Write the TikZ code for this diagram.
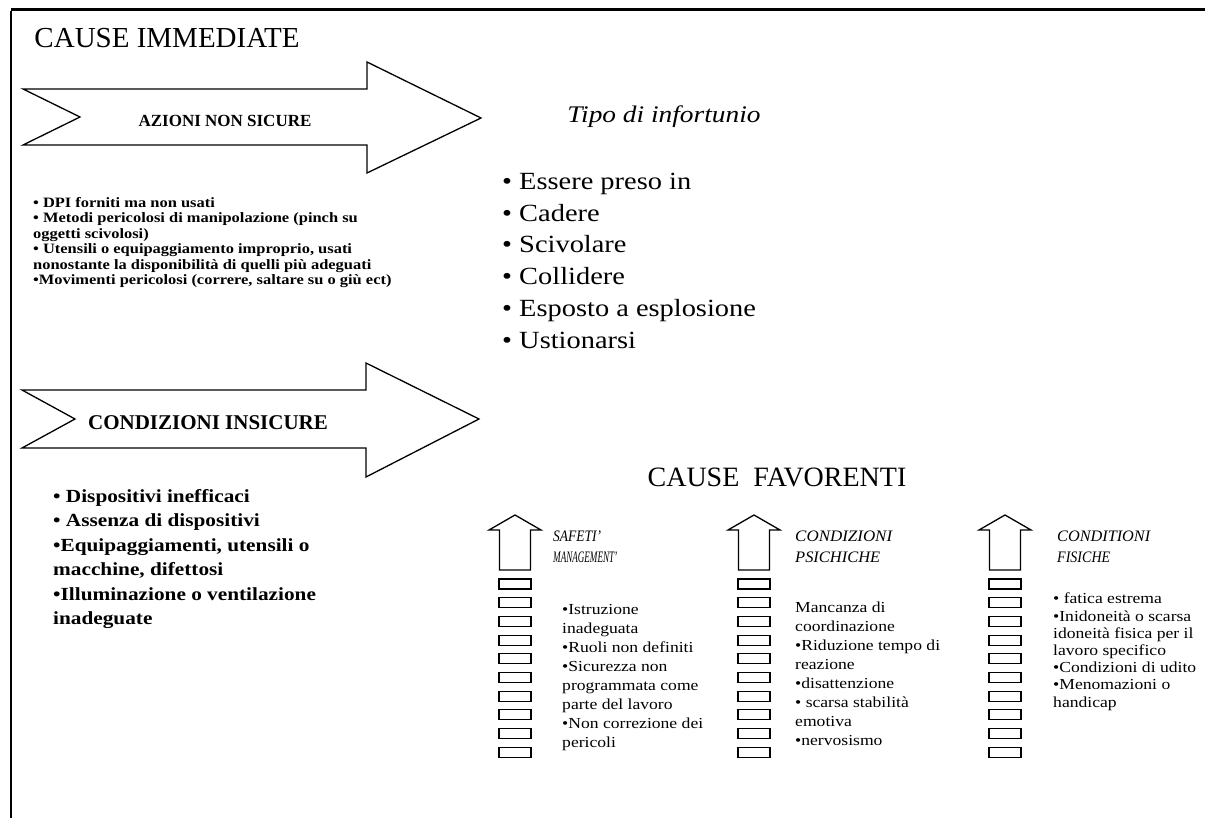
\documentclass[tikz,border=0pt]{standalone}
\usepackage{fontspec}
\usepackage{graphicx}
\setmainfont{Liberation Serif}
\newfontfamily\wideserif{Liberation Serif}[FakeStretch=1.15]
\newcommand{\fitto}[2]{\resizebox{#1pt}{\height}{#2}}
\begin{document}
\begin{tikzpicture}[x=1pt,y=-1pt,
  outline/.style={draw=black, line width=1.3pt, line join=miter},
  rungbox/.style={draw=black, line width=1.1pt},
  lbl/.style={inner sep=0pt, anchor=north west, align=left},
  hdr/.style={inner sep=0pt, anchor=north west, align=left, font=\itshape\fontsize{16}{21}\selectfont},
  colbody/.style={inner sep=0pt, anchor=north west, align=left},
  bigtitle/.style={inner sep=0pt, font=\fontsize{29}{31}\selectfont}]
\useasboundingbox (0,0) rectangle (1205,818);
% frame
\coordinate (ftl) at (11,10);
\coordinate (ftr) at (1205,10);
\coordinate (fbl) at (11,818);
\draw[line width=3pt] (ftl) -- (ftr);
\draw[line width=2.5pt] ([yshift=-1.5pt]ftl) -- (fbl);
% titles
\node[bigtitle] (ci) at (167,38) {CAUSE IMMEDIATE};
\node[bigtitle, font=\fontsize{28}{30}\selectfont] (cf) at (777,477) {CAUSE\ \ FAVORENTI};
% big arrow 1
\draw[outline] (23,89) -- (367,89) -- (367,62) -- (481,118) -- (367,173) -- (367,145) -- (23,145) -- (80,117) -- cycle;
\node[inner sep=0pt, font=\bfseries\fontsize{17}{18}\selectfont] (ans) at (225,121) {AZIONI NON SICURE};
% big arrow 2
\draw[outline] (22,390) -- (366,390) -- (366,363) -- (479,419) -- (366,477) -- (366,448) -- (22,448) -- (75,419) -- cycle;
\node[inner sep=0pt, font=\bfseries\fontsize{21}{22}\selectfont] (cis) at (208,423) {CONDIZIONI INSICURE};
% left list 1
\node[lbl, font=\wideserif\bfseries\fontsize{14.3}{15.5}\selectfont] (l1) at (33,197) {%
• DPI forniti ma non usati\\
• Metodi pericolosi di manipolazione (pinch su\\
oggetti scivolosi)\\
• Utensili o equipaggiamento improprio, usati\\
nonostante la disponibilità di quelli più adeguati\\
•Movimenti pericolosi (correre, saltare su o giù ect)};
% left list 2
\node[lbl, font=\wideserif\bfseries\fontsize{18.5}{24.5}\selectfont] (l2) at (53,489) {%
• Dispositivi inefficaci\\
• Assenza di dispositivi\\
•Equipaggiamenti, utensili o\\
macchine, difettosi\\
•Illuminazione o ventilazione\\
inadeguate};
% tipo di infortunio
\node[inner sep=0pt, font=\wideserif\itshape\fontsize{23.8}{26}\selectfont] (tipo) at (664,117) {Tipo di infortunio};
\node[lbl, font=\wideserif\fontsize{24.7}{31.7}\selectfont] (tl) at (502,173) {%
• Essere preso in\\
• Cadere\\
• Scivolare\\
• Collidere\\
• Esposto a esplosione\\
• Ustionarsi};
% up arrows with rungs
\foreach \cx in {515,754,1005}{
  \draw[outline] ({\cx-15.5},570) -- ({\cx-15.5},530) -- ({\cx-26},530) -- (\cx,515) -- ({\cx+26},530) -- ({\cx+15.5},530) -- ({\cx+15.5},570) -- cycle;
  \foreach \k in {0,...,9}{
    \draw[rungbox] ({\cx-16},{579+18.7*\k}) rectangle ({\cx+16},{589+18.7*\k});
  }
}
% column 1
\node[hdr] (h1) at (553,531) {\fitto{48}{SAFETI'}\\\fitto{64}{MANAGEMENT'}};
\node[colbody, font=\wideserif\fontsize{15.3}{19}\selectfont] (b1) at (562,604) {%
•Istruzione\\
inadeguata\\
•Ruoli non definiti\\
•Sicurezza non\\
programmata come\\
parte del lavoro\\
•Non correzione dei\\
pericoli};
% column 2
\node[hdr] (h2) at (795,531) {\fitto{97}{CONDIZIONI}\\\fitto{85}{PSICHICHE}};
\node[colbody, font=\wideserif\fontsize{15.3}{19}\selectfont] (b2) at (795,602) {%
Mancanza di\\
coordinazione\\
•Riduzione tempo di\\
reazione\\
•disattenzione\\
• scarsa stabilità\\
emotiva\\
•nervosismo};
% column 3
\node[hdr] (h3) at (1057,531) {\fitto{93}{CONDITIONI}\\\fitto{53}{FISICHE}};
\node[colbody, font=\wideserif\fontsize{15.3}{17.2}\selectfont] (b3) at (1053,593) {%
• fatica estrema\\
•Inidoneità o scarsa\\
idoneità fisica per il\\
lavoro specifico\\
•Condizioni di udito\\
•Menomazioni o\\
handicap};
\end{tikzpicture}
\end{document}
